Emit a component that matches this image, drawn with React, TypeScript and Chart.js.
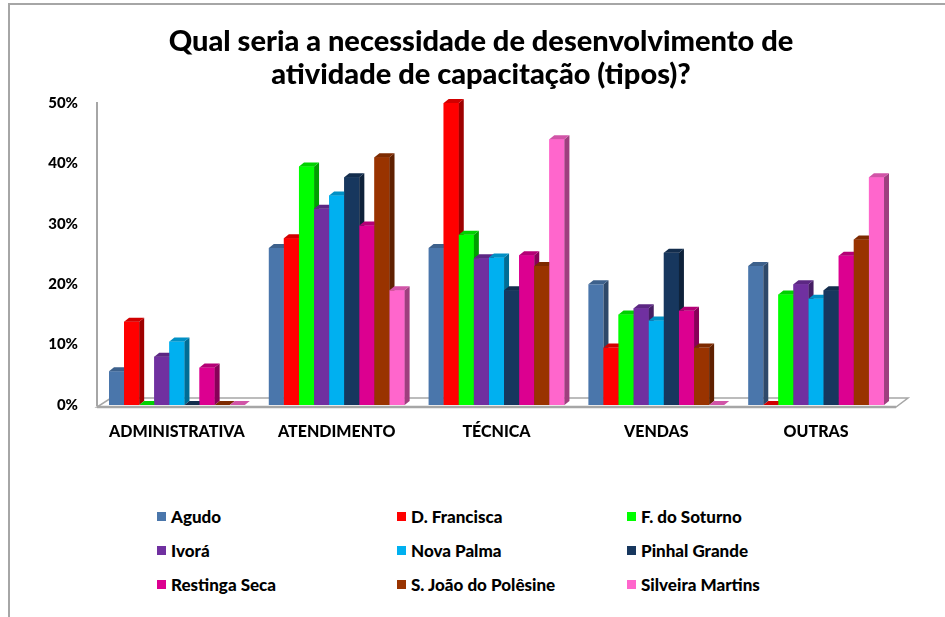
import React, { useEffect, useRef } from "react";
import { Chart, registerables } from "chart.js";

Chart.register(...registerables);

const titleLines = ["Qual seria a necessidade de desenvolvimento de", "atividade de capacitação (tipos)?"];
const categories = ["ADMINISTRATIVA", "ATENDIMENTO", "TÉCNICA", "VENDAS", "OUTRAS"];
const seriesNames = [
  "Agudo",
  "D. Francisca",
  "F. do Soturno",
  "Ivorá",
  "Nova Palma",
  "Pinhal Grande",
  "Restinga Seca",
  "S. João do Polêsine",
  "Silveira Martins",
];
const seriesColors = [
  "#4A76AB",
  "#FF0000",
  "#00FF00",
  "#7030A0",
  "#00B0F0",
  "#17375E",
  "#DC0090",
  "#993300",
  "#FF66CC",
];
const agudo = [5.6, 26.0, 26.0, 20.0, 23.0];
const dFrancisca = [13.8, 27.6, 50.0, 9.5, 0];
const fDoSoturno = [0, 39.5, 28.2, 15.0, 18.3];
const ivora = [8.0, 32.5, 24.3, 16.0, 20.0];
const novaPalma = [10.5, 34.7, 24.4, 14.0, 17.6];
const pinhalGrande = [0, 37.7, 19.0, 25.2, 19.0];
const restingaSeca = [6.2, 29.7, 24.8, 15.6, 24.7];
const sJoaoDoPolesine = [0, 41.0, 23.0, 9.5, 27.4];
const silveiraMartins = [0, 19.0, 44.0, 0, 37.7];
const seriesValues = [
  agudo,
  dFrancisca,
  fDoSoturno,
  ivora,
  novaPalma,
  pinhalGrande,
  restingaSeca,
  sJoaoDoPolesine,
  silveiraMartins,
];
const yMin = 0;
const yMax = 50;
const yStep = 10;

const FONT = "Lato, 'Open Sans', 'DejaVu Sans', sans-serif";

function shade(hex: string, f: number): string {
  const h = hex.replace("#", "");
  const r = Math.round(parseInt(h.slice(0, 2), 16) * f);
  const g = Math.round(parseInt(h.slice(2, 4), 16) * f);
  const b = Math.round(parseInt(h.slice(4, 6), 16) * f);
  return `rgb(${r},${g},${b})`;
}

const DEPTH_X = 5;
const DEPTH_Y = 4;

const bar3dPlugin = {
  id: "bar3d",
  beforeDatasetsDraw(chart: any) {
    const { ctx, chartArea } = chart;
    const l = chartArea.left;
    const r = chartArea.right;
    const b = chartArea.bottom;
    ctx.save();
    ctx.fillStyle = "#ffffff";
    ctx.strokeStyle = "#A6A6A6";
    ctx.lineWidth = 1.5;
    ctx.beginPath();
    ctx.moveTo(l, b + 2);
    ctx.lineTo(r, b + 2);
    ctx.lineTo(r + 12, b - 7);
    ctx.lineTo(l + 14, b - 7);
    ctx.closePath();
    ctx.fill();
    ctx.stroke();
    ctx.lineWidth = 2.5;
    ctx.beginPath();
    ctx.moveTo(l, b + 2);
    ctx.lineTo(r, b + 2);
    ctx.stroke();
    ctx.restore();
  },
  afterDatasetsDraw(chart: any) {
    const { ctx } = chart;
    const n = chart.data.datasets.length;
    const nCat = chart.data.labels.length;
    ctx.save();
    for (let k = 0; k < nCat; k++) {
      for (let j = 0; j < n; j++) {
        const el = chart.getDatasetMeta(j).data[k];
        if (!el) continue;
        const { x, y, base, width } = el.getProps(["x", "y", "base", "width"], true);
        const color = seriesColors[j];
        const l = x - width / 2;
        const r = x + width / 2;
        if (j > 0) el.draw(ctx);
        ctx.fillStyle = shade(color, 0.62);
        ctx.beginPath();
        ctx.moveTo(r, y);
        ctx.lineTo(r + DEPTH_X, y - DEPTH_Y);
        ctx.lineTo(r + DEPTH_X, base - DEPTH_Y);
        ctx.lineTo(r, base);
        ctx.closePath();
        ctx.fill();
        ctx.fillStyle = shade(color, 0.82);
        ctx.beginPath();
        ctx.moveTo(l, y);
        ctx.lineTo(l + DEPTH_X, y - DEPTH_Y);
        ctx.lineTo(r + DEPTH_X, y - DEPTH_Y);
        ctx.lineTo(r, y);
        ctx.closePath();
        ctx.fill();
      }
    }
    ctx.restore();
  },
};

export default function App() {
  const canvasRef = useRef<HTMLCanvasElement | null>(null);

  useEffect(() => {
    if (!canvasRef.current) return;
    const chart = new Chart(canvasRef.current, {
      type: "bar",
      data: {
        labels: categories,
        datasets: seriesNames.map((name, i) => ({
          label: name,
          data: seriesValues[i],
          backgroundColor: seriesColors[i],
          borderWidth: 0,
          categoryPercentage: 0.85,
          barPercentage: 1.0,
          clip: false as any,
        })),
      },
      options: {
        responsive: false,
        animation: false,
        events: [],
        layout: { padding: { left: 0, right: 49, top: 103, bottom: 0 } },
        plugins: {
          legend: { display: false },
          tooltip: { enabled: false },
          title: { display: false },
        },
        scales: {
          x: {
            grid: { display: false, drawTicks: false },
            border: { display: false },
            ticks: {
              color: "#000000",
              padding: 17,
              font: { family: FONT, size: 16, weight: "900" },
              maxRotation: 0,
              autoSkip: false,
            },
            afterFit: (scale: any) => {
              scale.height = 50;
            },
          },
          y: {
            min: yMin,
            max: yMax,
            grid: { display: false, drawTicks: false },
            border: { display: true, color: "#A6A6A6", width: 2 },
            ticks: {
              stepSize: yStep,
              color: "#000000",
              padding: 19,
              font: { family: FONT, size: 15, weight: "900" },
              callback: (v: any) => `${v}%`,
            },
            afterFit: (scale: any) => {
              scale.width = 97;
            },
          },
        },
      },
      plugins: [bar3dPlugin],
    });
    return () => chart.destroy();
  }, []);

  const legendCols = [157, 397, 627];
  const legendRows = [516, 550, 584];

  return (
    <div
      style={{
        position: "fixed",
        left: 0,
        top: 0,
        width: 945,
        height: 617,
        background: "#ffffff",
        overflow: "hidden",
        fontFamily: FONT,
      }}
    >
      <div
        style={{
          position: "absolute",
          left: 8,
          top: 3,
          width: 960,
          height: 640,
          borderTop: "2px solid #A6A6A6",
          borderLeft: "2px solid #A6A6A6",
          boxSizing: "border-box",
        }}
      />
      <canvas
        ref={canvasRef}
        width={945}
        height={455}
        style={{ position: "absolute", left: 0, top: 0, width: 945, height: 455 }}
      />
      {titleLines.map((line, i) => (
        <div
          key={line}
          style={{
            position: "absolute",
            left: 81,
            width: 800,
            top: 40 + i * 33 - 18,
            height: 36,
            lineHeight: "36px",
            textAlign: "center",
            fontSize: 29,
            fontWeight: 900,
            color: "#000000",
            whiteSpace: "nowrap",
          }}
        >
          {line}
        </div>
      ))}
      {seriesNames.map((name, i) => {
        const col = i % 3;
        const row = Math.floor(i / 3);
        return (
          <div
            key={name}
            style={{
              position: "absolute",
              left: legendCols[col],
              top: legendRows[row] - 10,
              height: 20,
              display: "flex",
              alignItems: "center",
              whiteSpace: "nowrap",
              fontSize: 17,
              fontWeight: 900,
              color: "#000000",
            }}
          >
            <span
              style={{
                display: "inline-block",
                width: 9,
                height: 9,
                background: seriesColors[i],
                marginRight: 5,
              }}
            />
            <span>{name}</span>
          </div>
        );
      })}
    </div>
  );
}
